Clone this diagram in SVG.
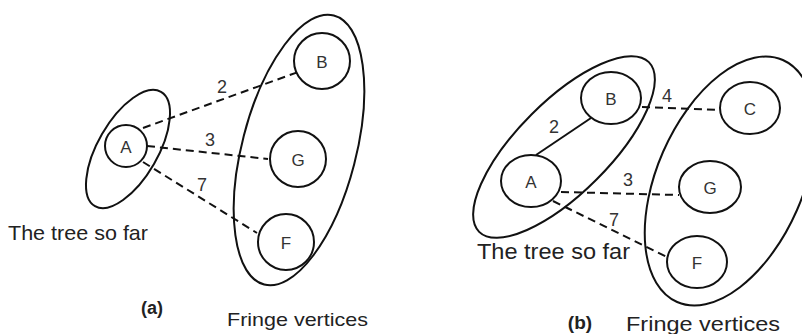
<svg xmlns="http://www.w3.org/2000/svg" width="802" height="334" viewBox="0 0 802 334">
<style>
  .grp { fill: none; stroke: #111; stroke-width: 2; }
  .node { fill: #fff; stroke: #111; stroke-width: 2; }
  .lbl { font-family: "Liberation Sans", "DejaVu Sans", sans-serif; fill: #333; text-anchor: middle; }
  .nl { font-size: 17px; dominant-baseline: central; }
  .el { font-size: 18px; }
  .cap { font-family: "Liberation Sans", "DejaVu Sans", sans-serif; fill: #222; }
  .dash { stroke: #111; stroke-width: 2; stroke-dasharray: 8 5; fill: none; }
  .solid { stroke: #111; stroke-width: 2; fill: none; }
</style>
<rect width="802" height="334" fill="#fff"/>

<!-- Panel (a) -->
<g id="a-tree-set"><ellipse class="grp" cx="128" cy="149" rx="30" ry="66" transform="rotate(30 128 149)"/></g>
<g id="a-fringe-set"><ellipse class="grp" cx="299" cy="150" rx="57" ry="139" transform="rotate(14.5 299 150)"/></g>

<g id="a-connectors">
  <line class="dash" x1="143" y1="128" x2="301" y2="71"/>
  <line class="dash" x1="147" y1="146" x2="268" y2="159"/>
  <line class="dash" x1="143" y1="162" x2="257" y2="233"/>
  <text class="lbl el" x="222" y="93">2</text>
  <text class="lbl el" x="210" y="146">3</text>
  <text class="lbl el" x="202" y="191">7</text>
</g>

<g id="a-A"><circle class="node" cx="126" cy="146" r="21"/><text class="lbl nl" x="126" y="147">A</text></g>
<g id="a-B"><circle class="node" cx="322" cy="61" r="28"/><text class="lbl nl" x="322" y="62">B</text></g>
<g id="a-G"><circle class="node" cx="298" cy="159" r="28"/><text class="lbl nl" x="298" y="160">G</text></g>
<g id="a-F"><circle class="node" cx="286" cy="242" r="28"/><text class="lbl nl" x="286" y="243">F</text></g>

<text class="cap" x="8" y="240" font-size="21" textLength="140" lengthAdjust="spacingAndGlyphs">The tree so far</text>
<text class="cap" x="152" y="314" font-size="18" font-weight="bold" text-anchor="middle">(a)</text>
<text class="cap" x="227" y="326" font-size="19" textLength="141" lengthAdjust="spacingAndGlyphs">Fringe vertices</text>

<!-- Panel (b) -->
<g id="b-tree-set"><ellipse class="grp" cx="564" cy="147" rx="46" ry="120" transform="rotate(45 564 147)"/></g>
<g id="b-fringe-set"><ellipse class="grp" cx="730" cy="181" rx="73" ry="132" transform="rotate(23.6 730 181)"/></g>

<g id="b-connectors">
  <line class="solid" x1="536" y1="155" x2="591" y2="118"/>
  <line class="dash" x1="642" y1="107" x2="720" y2="110"/>
  <line class="dash" x1="561" y1="192" x2="679" y2="195"/>
  <line class="dash" x1="553" y1="201" x2="667" y2="257"/>
  <text class="lbl el" x="554" y="133">2</text>
  <text class="lbl el" x="667" y="102">4</text>
  <text class="lbl el" x="628" y="186">3</text>
  <text class="lbl el" x="614" y="226">7</text>
</g>

<g id="b-A"><ellipse class="node" cx="531" cy="181" rx="30" ry="26"/><text class="lbl nl" x="531" y="182">A</text></g>
<g id="b-B"><ellipse class="node" cx="611" cy="98" rx="30" ry="26"/><text class="lbl nl" x="611" y="99">B</text></g>
<g id="b-C"><ellipse class="node" cx="750" cy="108" rx="30" ry="26"/><text class="lbl nl" x="750" y="109">C</text></g>
<g id="b-G"><ellipse class="node" cx="710" cy="187" rx="31" ry="26"/><text class="lbl nl" x="710" y="188">G</text></g>
<g id="b-F"><ellipse class="node" cx="697" cy="262" rx="30" ry="26"/><text class="lbl nl" x="697" y="263">F</text></g>

<text class="cap" x="477" y="259" font-size="22" textLength="153" lengthAdjust="spacingAndGlyphs">The tree so far</text>
<text class="cap" x="580" y="329" font-size="19" font-weight="bold" text-anchor="middle">(b)</text>
<text class="cap" x="626" y="331" font-size="21" textLength="154" lengthAdjust="spacingAndGlyphs">Fringe vertices</text>
</svg>
